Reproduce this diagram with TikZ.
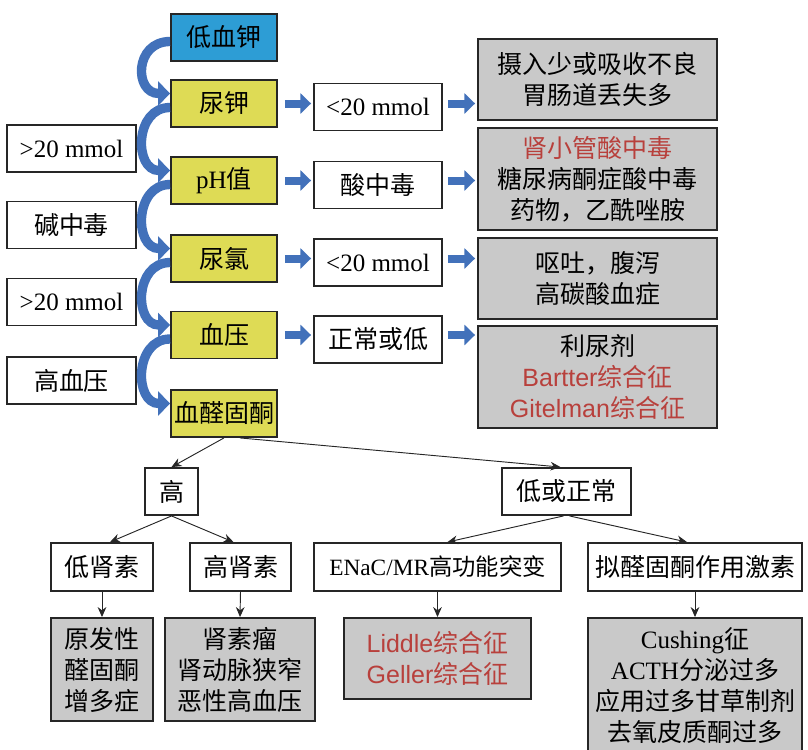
\documentclass[tikz,border=0pt]{standalone}
\usepackage{fontspec}
\setmainfont{Noto Sans CJK SC}
\newfontfamily\lat{Liberation Serif}
\newfontfamily\lats{Liberation Sans}
\usetikzlibrary{arrows.meta,calc,positioning}

\definecolor{boxyel}{RGB}{222,219,85}
\definecolor{boxblu}{RGB}{45,157,213}
\definecolor{arrblu}{RGB}{66,113,186}
\definecolor{boxgry}{RGB}{201,201,201}
\definecolor{txtred}{RGB}{184,64,60}
\newcommand\hl[1]{\textcolor{txtred}{#1}}

\begin{document}
\begin{tikzpicture}[
	x=0.75pt, y=-0.75pt,
	font=\fontsize{18.75}{23.25}\selectfont,
	box/.style={draw=black!85, line width=1.4pt, align=center, inner sep=0pt, minimum height=35.25pt, fill=white},
	mainbox/.style={box, fill=boxyel, minimum width=79.5pt},
	sidebox/.style={box, minimum width=96.75pt},
	midbox/.style={box, minimum width=96pt},
	resbox/.style={box, fill=boxgry},
	curv/.style={arrblu, line width=7pt, -{Triangle[width=18pt,length=9pt]}},
	barr/.style={arrblu, line width=6pt, -{Triangle[width=15pt,length=8pt]}},
	link/.style={black!85, line width=0.7pt, -{Stealth[length=7.5pt,width=6.5pt]}}
	]
	\useasboundingbox (0,0) rectangle (808,750);
	
	% main column
	\node[mainbox, fill=boxblu] (dxj) at (224,37.5) {低血钾};
	\node[mainbox] (nj) at (224,103.5) {尿钾};
	\node[mainbox] (ph) at (224,180.5) {{\lat pH}值};
	\node[mainbox] (nl) at (224,258.5) {尿氯};
	\node[mainbox] (xy) at (224,335) {血压};
	\node[mainbox] (xq) at (224,413.5) {血醛固酮};
	
	% left column
	\node[sidebox] (l1) at (71.5,148.5) {\lat >20 mmol};
	\node[sidebox] (l2) at (71.5,225) {碱中毒};
	\node[sidebox] (l3) at (71.5,302) {\lat >20 mmol};
	\node[sidebox] (l4) at (71.5,380.5) {高血压};
	
	% middle column
	\node[midbox] (m1) at (378,107) {\lat <20 mmol};
	\node[midbox] (m2) at (378,185) {酸中毒};
	\node[midbox] (m3) at (378,262.5) {\lat <20 mmol};
	\node[midbox] (m4) at (378,339.5) {正常或低};
	
	% right column
	\node[resbox, minimum width=179.25pt, minimum height=60.75pt] (r1) at (597.5,79.5) {摄入少或吸收不良\\胃肠道丢失多};
	\node[resbox, minimum width=179.25pt, minimum height=76.5pt] (r2) at (597.5,179) {\hl{肾小管酸中毒}\\糖尿病酮症酸中毒\\药物，乙酰唑胺};
	\node[resbox, minimum width=179.25pt, minimum height=60.75pt] (r3) at (597.5,278.5) {呕吐，腹泻\\高碳酸血症};
	\node[resbox, minimum width=179.25pt, minimum height=76.5pt] (r4) at (597.5,377) {利尿剂\\\hl{{\lats Bartter}综合征}\\\hl{{\lats Gitelman}综合征}};
	
	% lower tree
	\node[box, minimum width=39.75pt] (gao) at (171.5,491.5) {高};
	\node[box, minimum width=96.75pt] (dz) at (566.5,491.5) {低或正常};
	\node[box, minimum width=76.5pt, minimum height=36pt] (dsu) at (102,567) {低肾素};
	\node[box, minimum width=75.75pt, minimum height=36pt] (gsu) at (240.5,567) {高肾素};
	\node[box, minimum width=185.25pt, minimum height=36pt, font=\fontsize{17.5}{21}\selectfont] (enac) at (437.5,567) {{\lat ENaC/MR}高功能突变};
	\node[box, minimum width=160.5pt, minimum height=36pt] (nq) at (695,567) {拟醛固酮作用激素};
	
	\node[resbox, minimum width=76.5pt, minimum height=77.25pt] (yf) at (102,669.5) {原发性\\醛固酮\\增多症};
	\node[resbox, minimum width=112.5pt, minimum height=77.25pt] (sl) at (240,669.5) {肾素瘤\\肾动脉狭窄\\恶性高血压};
	\node[resbox, minimum width=140.25pt, minimum height=60.75pt] (ld) at (437.5,658.5) {\hl{{\lats Liddle}综合征}\\\hl{{\lats Geller}综合征}};
	\node[resbox, minimum width=160.5pt, minimum height=102pt] (cs) at (695,686) {{\lat Cushing}征\\{\lat ACTH}分泌过多\\应用过多甘草制剂\\去氧皮质酮过多};
	
	% curved arrows down the main column
	\foreach \a/\b in {dxj/nj,nj/ph,ph/nl,nl/xy,xy/xq}
		\draw[curv] ($(\a.west)+(0,4)$) .. controls +(-36,0) and +(-36,0) .. ($(\b.west)+(0,-10)$);
	
	% block arrows to the right
	\foreach \a/\b/\c in {nj/m1/r1,ph/m2/r2,nl/m3/r3,xy/m4/r4}{
		\draw[barr] ($(\a.east)+(7,0)$) -- ($(\a.east -| \b.west)+(-2,0)$);
		\draw[barr] ($(\a.east -| \b.east)+(5,0)$) -- ($(\a.east -| \c.west)+(-2,0)$);
	}
	
	% tree links
	\draw[link] (xq.south) -- (gao.north);
	\draw[link] ($(xq.south)+(16,0)$) -- ($(dz.north)+(-6,0)$);
	\draw[link] (gao.south) -- ($(dsu.north)+(8,0)$);
	\draw[link] (gao.south) -- ($(gsu.north)+(-7,0)$);
	\draw[link] ($(dz.south)+(-3,0)$) -- ($(enac.north)+(10,0)$);
	\draw[link] ($(dz.south)+(3,0)$) -- ($(nq.north)+(-8,0)$);
	\draw[link] (dsu.south) -- (yf.north);
	\draw[link] (gsu.south) -- (sl.north);
	\draw[link] (enac.south) -- (ld.north);
	\draw[link] (nq.south) -- (cs.north);
\end{tikzpicture}
\end{document}
